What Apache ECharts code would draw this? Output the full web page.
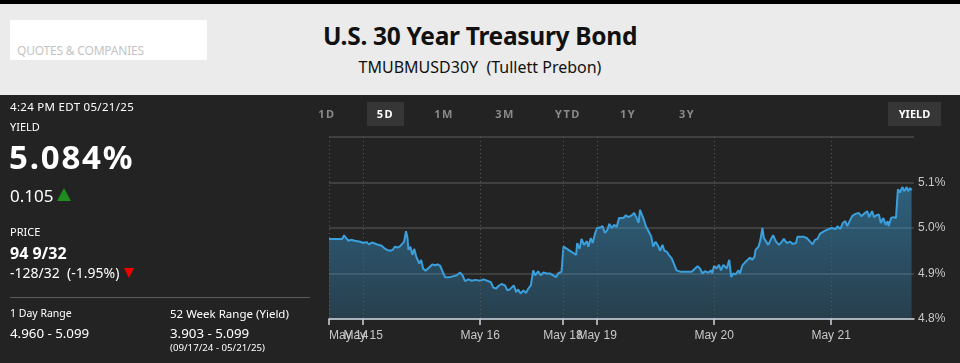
<!DOCTYPE html>
<html><head><meta charset="utf-8">
<script src="https://cdn.jsdelivr.net/npm/echarts@6/dist/echarts.min.js"></script>
<style>
html,body{margin:0;padding:0;width:960px;height:363px;overflow:hidden;background:#232323;font-family:"Noto Sans",sans-serif;}
#top{position:absolute;left:0;top:0;width:960px;height:4px;background:#000;}
#hdr{position:absolute;left:0;top:4px;width:960px;height:91px;background:#ebebeb;}
#search{position:absolute;left:10px;top:16px;width:197px;height:40px;background:#fff;}
#search span{position:absolute;left:7px;top:22px;font-size:12px;color:#c4c4c4;letter-spacing:-0.2px;}
.t{position:absolute;white-space:nowrap;}
#title{left:0;width:960px;text-align:center;top:15px;font-size:24.5px;font-weight:bold;color:#111;letter-spacing:-0.3px;}
#sub{left:0;width:960px;text-align:center;top:52px;font-size:16px;color:#111;}
.w{color:#fff;}
.tab{position:absolute;top:102px;height:24px;line-height:24px;font-size:11px;font-weight:bold;color:#8a8a8a;text-align:center;letter-spacing:1.5px;}
.tab.on{background:#363636;color:#fff;}
#chart{position:absolute;left:0;top:0;width:960px;height:363px;}
</style></head>
<body>
<div id="chart"></div>
<div id="top"></div>
<div id="hdr">
  <div id="search"><span>QUOTES &amp; COMPANIES</span></div>
  <div class="t" id="title">U.S. 30 Year Treasury Bond</div>
  <div class="t" id="sub">TMUBMUSD30Y&nbsp;&nbsp;(Tullett Prebon)</div>
</div>
<div class="t w" style="left:10px;top:99px;font-size:11.5px;letter-spacing:0.3px;">4:24 PM EDT 05/21/25</div>
<div class="t w" style="left:10px;top:119px;font-size:11px;">YIELD</div>
<div class="t w" style="left:9px;top:134px;font-size:33px;font-weight:bold;letter-spacing:1.8px;">5.084%</div>
<div class="t w" style="left:10px;top:184px;font-size:17px;">0.105</div>
<div class="t" style="left:57px;top:188px;width:0;height:0;border-left:7px solid transparent;border-right:7px solid transparent;border-bottom:13px solid #1e8c1e;"></div>
<div class="t w" style="left:10px;top:224px;font-size:11px;">PRICE</div>
<div class="t w" style="left:10px;top:242px;font-size:16px;font-weight:bold;">94 9/32</div>
<div class="t w" style="left:10px;top:263px;font-size:14px;">-128/32&nbsp;&nbsp;(-1.95%)</div>
<div class="t" style="left:124px;top:268px;width:0;height:0;border-left:5px solid transparent;border-right:5px solid transparent;border-top:10px solid #f00000;"></div>
<div class="t" style="left:10px;top:297px;width:300px;height:1px;background:#5a5a5a;"></div>
<div class="t w" style="left:10px;top:306px;font-size:10.5px;">1 Day Range</div>
<div class="t w" style="left:10px;top:324px;font-size:13.3px;">4.960 - 5.099</div>
<div class="t w" style="left:170px;top:306px;font-size:11.5px;">52 Week Range (Yield)</div>
<div class="t w" style="left:170px;top:324px;font-size:13.3px;">3.903 - 5.099</div>
<div class="t w" style="left:170px;top:341px;font-size:9.7px;">(09/17/24 - 05/21/25)</div>
<div class="tab" style="left:312px;width:30px;">1D</div>
<div class="tab on" style="left:367px;width:37px;">5D</div>
<div class="tab" style="left:428px;width:32px;">1M</div>
<div class="tab" style="left:489px;width:32px;">3M</div>
<div class="tab" style="left:550px;width:36px;">YTD</div>
<div class="tab" style="left:613px;width:30px;">1Y</div>
<div class="tab" style="left:672px;width:30px;">3Y</div>
<div class="tab on" style="left:888px;width:53px;letter-spacing:0;">YIELD</div>
<script>
// trading-time hours since May 14, 5 PM ET (weekend gap removed)
const hours = [0,2.7,3.1,3.5,4.0,4.5,5.3,5.7,6.4,7.0,7.7,8.2,8.8,9.4,10.1,10.8,11.3,11.9,12.5,13.1,13.5,14.1,14.6,15.0,15.4,15.8,16.1,16.3,16.7,17.1,17.5,17.9,18.5,18.9,19.3,19.8,20.2,20.7,21.2,21.8,22.3,22.8,23.2,23.8,24.8,26.2,26.9,27.4,27.9,28.6,29.3,30.0,31.0,31.7,32.7,33.2,33.7,34.3,34.7,35.4,36.1,36.6,37.1,37.5,37.9,38.4,38.8,39.3,39.9,40.4,40.9,41.4,41.9,42.3,42.9,43.4,44.0,44.7,45.3,46.0,46.6,47.0,47.7,48.1,50.7,50.9,51.4,51.8,52.3,52.9,53.2,53.7,54.1,54.6,55.0,55.6,56.1,56.6,57.1,57.5,58.0,58.5,59.0,59.5,59.9,60.4,60.9,61.4,62.1,62.6,63.1,63.5,63.8,64.2,64.6,65.0,65.5,66.1,66.5,67.0,67.6,67.9,68.4,68.8,69.3,69.7,70.3,70.8,71.3,72.0,74.4,75.1,75.6,76.1,76.6,77.1,77.8,78.4,78.6,79.0,79.5,80.0,80.4,80.9,81.6,82.1,82.5,82.9,83.4,84.0,84.3,84.8,85.3,85.9,86.4,86.8,87.3,87.5,88.1,88.5,88.9,89.2,89.6,90.1,90.6,91.1,91.7,92.3,92.9,93.3,93.9,94.6,95.1,95.8,96.1,97.3,98.0,98.7,99.2,99.7,100.2,100.7,101.4,102.1,103.1,104.0,104.3,104.9,105.4,105.9,106.3,106.7,107.3,108.0,108.7,109.2,109.7,110.4,110.8,111.4,111.8,112.3,112.8,113.2,113.7,114.2,114.6,114.8,115.3,115.8,116.3,116.7,117.1,117.6,118.0,118.5,118.8,119.2,119.5];
const yields = [4.976,4.976,4.984,4.978,4.972,4.974,4.972,4.975,4.970,4.967,4.969,4.964,4.968,4.966,4.963,4.961,4.956,4.952,4.950,4.952,4.959,4.957,4.960,4.964,4.970,4.993,4.978,4.952,4.959,4.941,4.954,4.937,4.922,4.930,4.911,4.906,4.902,4.915,4.920,4.918,4.920,4.917,4.907,4.892,4.892,4.896,4.902,4.896,4.883,4.887,4.884,4.886,4.884,4.887,4.883,4.881,4.869,4.867,4.872,4.877,4.874,4.863,4.865,4.867,4.874,4.859,4.865,4.856,4.863,4.857,4.867,4.874,4.907,4.896,4.905,4.896,4.902,4.900,4.900,4.896,4.892,4.900,4.904,4.959,4.941,4.967,4.954,4.976,4.963,4.971,4.959,4.978,4.967,4.989,5.000,5.001,5.004,4.989,4.996,5.009,5.000,5.007,5.002,5.022,5.026,5.022,5.028,5.024,5.028,5.033,5.022,5.011,5.040,5.039,5.018,5.004,4.994,4.981,4.959,4.970,4.959,4.950,4.963,4.950,4.948,4.941,4.933,4.920,4.907,4.904,4.904,4.911,4.916,4.911,4.900,4.905,4.902,4.907,4.900,4.917,4.911,4.919,4.907,4.919,4.911,4.930,4.892,4.900,4.898,4.907,4.900,4.918,4.924,4.930,4.935,4.930,4.937,4.952,4.959,4.974,5.000,4.978,4.981,4.963,4.974,4.984,4.970,4.963,4.970,4.976,4.967,4.970,4.965,4.967,4.981,4.981,4.978,4.970,4.964,4.974,4.976,4.987,4.992,4.996,5.000,4.998,5.004,4.998,5.011,5.015,5.004,5.013,5.026,5.031,5.033,5.026,5.031,5.037,5.024,5.037,5.024,5.028,5.030,5.011,5.022,5.007,5.015,5.004,5.022,5.024,5.022,5.085,5.078,5.090,5.081,5.090,5.081,5.088,5.083,5.084];
const dayTicks = [0,7,31,48,55,79,103];
const dayLabels = ['May 14','May 15','May 16','May 18','May 19','May 20','May 21'];

const chart = echarts.init(document.getElementById('chart'), null, {renderer:'canvas'});
const pts = hours.map((h,i)=>[h, yields[i]]);
const dayFmt = (v)=>{const i=dayTicks.indexOf(Math.round(v)); return i>=0?dayLabels[i]:'';};
chart.setOption({
  backgroundColor:'transparent',
  animation:false,
  grid:{left:329, top:137, width:585, height:182, containLabel:false},
  xAxis:[{
    type:'value', min:0, max:120, position:'bottom',
    axisLine:{show:true, onZero:false, lineStyle:{color:'#cdd6e0', width:1.5}},
    axisTick:{show:true, customValues:dayTicks, length:6, lineStyle:{color:'#cdd6e0', width:1.5}},
    axisLabel:{show:true, customValues:dayTicks.slice(1), color:'#c8c8c8', fontSize:12, margin:11,
      hideOverlap:false, formatter:dayFmt},
    splitLine:{show:true, lineStyle:{color:'#5a5a5a', type:[1,3], width:1}},
    z:5
  },{
    type:'value', min:0, max:120, position:'bottom',
    axisLine:{show:false, onZero:false}, axisTick:{show:false}, splitLine:{show:false},
    axisLabel:{show:true, customValues:dayTicks.slice(0,1), color:'#c8c8c8', fontSize:12, margin:11,
      showMinLabel:true, alignMinLabel:'left', align:'left', formatter:dayFmt},
    z:5
  }],
  yAxis:{
    type:'value', position:'right', min:4.8, max:5.2, interval:0.1,
    axisLine:{show:false}, axisTick:{show:false},
    axisLabel:{color:'#c8c8c8', fontSize:12, margin:4, showMaxLabel:false,
      formatter:(v)=> v>5.15 ? '' : v.toFixed(1)+'%'},
    splitLine:{show:true, lineStyle:{color:'#4a4a4a', width:1.5}}
  },
  series:[{
    type:'line', data:pts, showSymbol:false, smooth:false,
    lineStyle:{color:'#3b9fdc', width:2},
    areaStyle:{color:new echarts.graphic.LinearGradient(0,0,0,1,[
      {offset:0, color:'rgba(58,160,220,0.70)'},
      {offset:1, color:'rgba(58,160,220,0.33)'}])}
  }]
});
</script>
</body></html>
